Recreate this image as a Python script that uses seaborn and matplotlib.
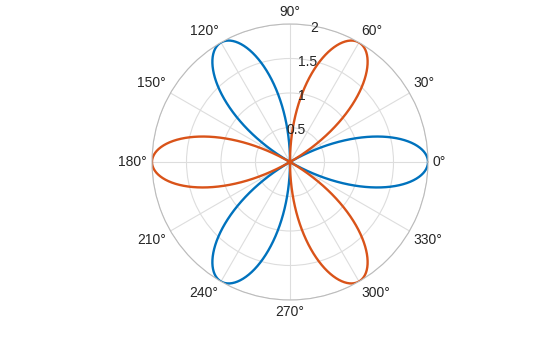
import numpy as np
import pandas as pd
import matplotlib
matplotlib.use("Agg")
import matplotlib.pyplot as plt
import seaborn as sns

# rose-curve parameters
series_names = ["blue", "orange"]
amplitudes = [2.0, 2.0]
petal_count = 3
phase_deg = [0, 60]          # petal directions start at 0° (blue) and 60° (orange)
colors = ["#0072BD", "#D95319"]
theta_ticks = list(range(0, 360, 30))
theta_tick_labels = [f"{d}°" for d in theta_ticks]
r_ticks = [0.5, 1, 1.5, 2]
r_tick_labels = ["0.5", "1", "1.5", "2"]

frames = []
for name, a, ph in zip(series_names, amplitudes, phase_deg):
    t = np.linspace(0, 2 * np.pi, 1201)
    r = a * np.cos(petal_count * (t - np.deg2rad(ph)))
    r = np.clip(r, 0, None)
    frames.append(pd.DataFrame({"theta": t, "r": r, "series": name}))
df = pd.concat(frames, ignore_index=True)

sns.set_theme(style="white")
plt.rcParams["font.family"] = ["Liberation Sans", "DejaVu Sans"]

fig = plt.figure(figsize=(5.6, 3.37), dpi=100)
ax = fig.add_axes([0.2714, 0.1098, 0.4929, 0.819], projection="polar")

sns.lineplot(data=df, x="theta", y="r", hue="series", palette=colors,
             sort=False, estimator=None, units="series", ax=ax, linewidth=1.7, legend=False)

ax.set_ylim(0, 2)
ax.set_xlabel("")
ax.set_ylabel("")
ax.set_xticks(np.deg2rad(theta_ticks))
ax.set_xticklabels([])
ax.set_yticks(r_ticks)
ax.set_yticklabels([])

gap = 3.6  # points
for d, lab in zip(theta_ticks, theta_tick_labels):
    c, s = np.cos(np.deg2rad(d)), np.sin(np.deg2rad(d))
    ha = "left" if c > 0.01 else ("right" if c < -0.01 else "center")
    va = "bottom" if s > 0.01 else ("top" if s < -0.01 else "center")
    ax.annotate(lab, xy=(np.deg2rad(d), 2), xytext=(gap * c, gap * s),
                textcoords="offset points", ha=ha, va=va, fontsize=10,
                color="#262626", annotation_clip=False)

for rv, lab in zip(r_ticks, r_tick_labels):
    ax.annotate(lab, xy=(np.deg2rad(80), rv), xytext=(0, -1.5), textcoords="offset points",
                ha="center", va="center", fontsize=10, color="#262626", annotation_clip=False)
ax.grid(True, color="#dddddd", linewidth=0.8)
ax.spines["polar"].set_color("#bbbbbb")
ax.spines["polar"].set_linewidth(0.8)

fig.savefig("out.png", dpi=100)
